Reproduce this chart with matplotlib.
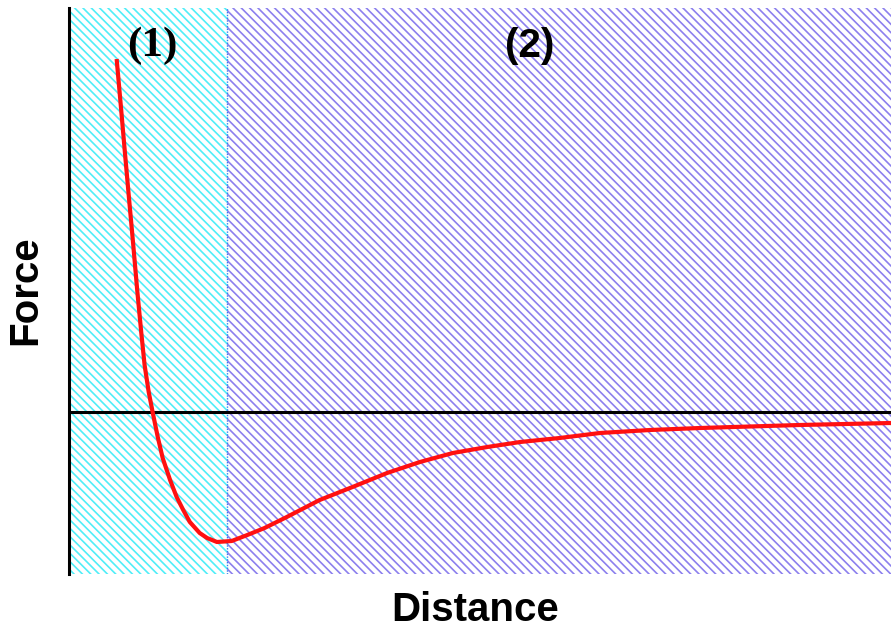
import matplotlib.pyplot as plt

# distance / force (arbitrary units)
distance = [0.58, 0.63, 0.68, 0.73, 0.78, 0.83, 0.88, 0.92, 0.97, 1.02, 1.08, 1.14,
            1.23, 1.31, 1.39, 1.47, 1.59, 1.68, 1.80, 1.98, 2.17, 2.38, 2.65, 3.05,
            3.45, 3.87, 4.27, 4.67, 5.09, 5.49, 5.97, 6.46, 7.07, 7.68, 8.89, 10.0]
force = [3.53, 3.07, 2.60, 2.14, 1.69, 1.22, 0.79, 0.47, 0.20, -0.01, -0.25, -0.46,
         -0.68, -0.85, -0.98, -1.10, -1.21, -1.26, -1.30, -1.29, -1.23, -1.16, -1.05, -0.88,
         -0.75, -0.61, -0.50, -0.41, -0.35, -0.30, -0.26, -0.21, -0.18, -0.16, -0.13, -0.11]

region_bounds = [0.0, 1.92, 10.0]
region_labels = ['(1)', '(2)']
label_x = [1.01, 5.61]

plt.rcParams['hatch.linewidth'] = 1.2

fig = plt.figure(figsize=(8.91, 6.3), dpi=100)
ax = fig.add_axes([0.0774, 0.0889, 0.9226, 0.8984])
ax.set_xlim(0, 10)
ax.set_ylim(-1.62, 4.04)

# hatched regions
ax.axvspan(region_bounds[0], region_bounds[1], facecolor='white', edgecolor='#50eef8',
           hatch='\\\\\\\\', linewidth=0, zorder=0)
ax.axvspan(region_bounds[1], region_bounds[2], facecolor='white', edgecolor='#8c80ee',
           hatch='\\\\\\\\', linewidth=0, zorder=0)
ax.axvline(region_bounds[1], color='#3080f0', lw=1, ls=(0, (1, 1)), zorder=1)

ax.axhline(0, color='black', lw=2.2, zorder=2)
ax.plot(distance, force, color='#ff1010', lw=3, solid_capstyle='butt', zorder=3)

ax.text(label_x[0], 3.66, region_labels[0], ha='center', va='center', fontsize=31,
        fontweight='bold', family='Liberation Serif')
ax.text(label_x[1], 3.66, region_labels[1], ha='center', va='center', fontsize=29,
        fontweight='bold', family='Liberation Sans')

for s in ['top', 'right', 'bottom']:
    ax.spines[s].set_visible(False)
ax.spines['left'].set_linewidth(2.2)
ax.set_xticks([])
ax.set_yticks([])

fig.text(0.533, 0.032, 'Distance', ha='center', va='center', fontsize=29,
         fontweight='bold', family='Liberation Sans')
fig.text(0.028, 0.54, 'Force', ha='center', va='center', fontsize=29,
         fontweight='bold', family='Liberation Sans', rotation=90)

fig.savefig('out.png', dpi=100)
